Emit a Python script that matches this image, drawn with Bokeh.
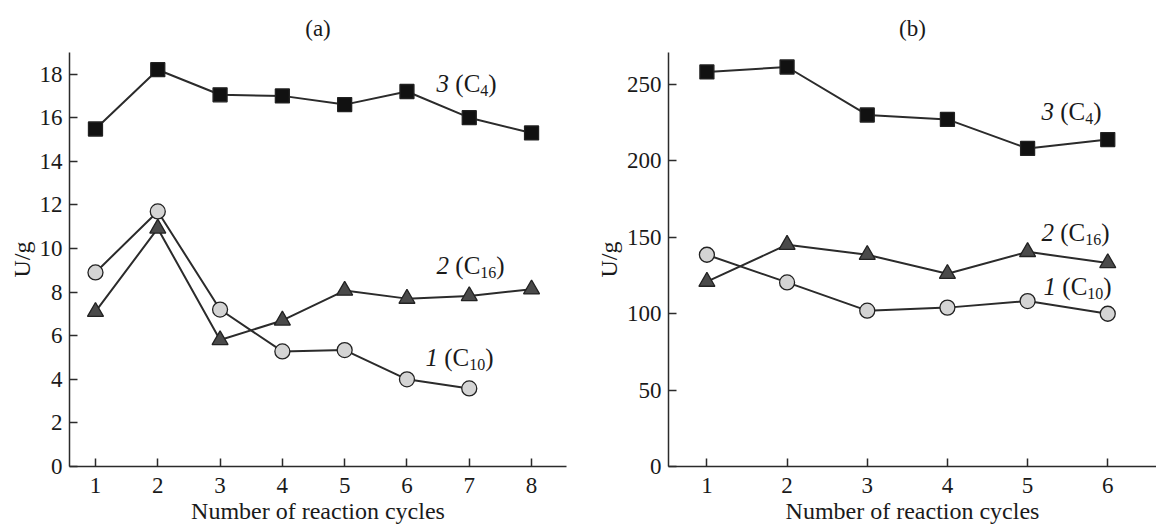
from bokeh.plotting import figure
from bokeh.layouts import row
from bokeh.models import Label, FixedTicker, Range1d
from bokeh.embed import file_html
from bokeh.resources import INLINE

# ---- data ----
cycles_a = [1, 2, 3, 4, 5, 6, 7, 8]
c4_a = [15.48, 18.2, 17.05, 17.0, 16.6, 17.2, 16.0, 15.3]
c16_a = [7.1, 10.92, 5.8, 6.7, 8.07, 7.7, 7.82, 8.13]
cycles_a_c10 = [1, 2, 3, 4, 5, 6, 7]
c10_a = [8.9, 11.7, 7.2, 5.28, 5.34, 4.0, 3.58]

cycles_b = [1, 2, 3, 4, 5, 6]
c4_b = [258.3, 261.5, 230.1, 227.2, 208.2, 214.0]
c16_b = [121.0, 145.2, 138.6, 126.2, 140.5, 133.2]
c10_b = [138.6, 120.5, 102.0, 104.0, 108.3, 100.0]

yticks_a = [0, 2, 4, 6, 8, 10, 12, 14, 16, 18]
yticks_b = [0, 50, 100, 150, 200, 250]

FONT = "Liberation Serif"
LINE = "#2b2b2b"
TXT = "#1a1a1a"


def style(p, xticks, yticks):
    p.xaxis.ticker = FixedTicker(ticks=xticks)
    p.yaxis.ticker = FixedTicker(ticks=yticks)
    for ax in (p.xaxis[0], p.yaxis[0]):
        ax.major_tick_in = 8
        ax.major_tick_out = 0
        ax.minor_tick_in = 0
        ax.minor_tick_out = 0
        ax.axis_line_width = 1.5
        ax.axis_line_color = LINE
        ax.major_tick_line_width = 1.5
        ax.major_tick_line_color = LINE
        ax.major_label_text_font = FONT
        ax.major_label_text_font_size = "23px"
        ax.major_label_text_color = TXT
        ax.axis_label_text_font = FONT
        ax.axis_label_text_font_size = "24px"
        ax.axis_label_text_font_style = "normal"
        ax.axis_label_text_color = TXT
    p.xaxis.major_label_standoff = 11
    p.yaxis.major_label_standoff = 7
    p.xaxis.axis_label_standoff = 2
    p.yaxis.axis_label_standoff = 2
    p.xgrid.visible = False
    p.ygrid.visible = False
    p.outline_line_color = None
    p.title.text_font = FONT
    p.title.text_font_size = "23px"
    p.title.text_font_style = "normal"
    p.title.align = "center"
    p.title.text_color = TXT
    p.title.standoff = 24


def series(p, x, y, marker, fill, size):
    p.line(x, y, line_color=LINE, line_width=2)
    p.scatter(x, y, marker=marker, size=size, fill_color=fill,
              line_color="#222222", line_width=1.3)


def curve_label(p, x, y, num, sub):
    big = 25
    small = 16
    parts = [(num, "italic", big, 0.0, 0)]
    off = 0.5 * big + 0.25 * big
    parts.append(("(C", "normal", big, off, 0))
    off += 1.0 * big
    parts.append((sub, "normal", small, off, -7))
    off += 0.5 * small * len(sub)
    parts.append((")", "normal", big, off, 0))
    for txt, st, fs, xo, yo in parts:
        p.add_layout(Label(x=x, y=y, x_offset=xo, y_offset=yo, text=txt,
                           text_font=FONT, text_font_style=st,
                           text_font_size=f"{fs}px", text_baseline="middle",
                           text_align="left", text_color=TXT))


# ---- panel (a) ----
pa = figure(title="(a)", width=580, height=527,
            min_border_left=69, min_border_right=14,
            min_border_top=52, min_border_bottom=61,
            x_range=Range1d(0.583, 8.561), y_range=Range1d(0, 18.99),
            output_backend="svg", toolbar_location=None,
            x_axis_label="Number of reaction cycles", y_axis_label="U/g")
style(pa, cycles_a, yticks_a)
series(pa, cycles_a, c4_a, "square", "#111111", 14)
series(pa, cycles_a, c16_a, "triangle", "#4a4a4a", 16)
series(pa, cycles_a_c10, c10_a, "circle", "#d4d4d4", 15)
curve_label(pa, 6.476, 17.59, "3", "4")
curve_label(pa, 6.476, 9.21, "2", "16")
curve_label(pa, 6.298, 4.99, "1", "10")

# ---- panel (b) ----
pb = figure(title="(b)", width=576, height=527,
            min_border_left=88, min_border_right=0,
            min_border_top=52, min_border_bottom=61,
            x_range=Range1d(0.521, 6.608), y_range=Range1d(0, 271),
            output_backend="svg", toolbar_location=None,
            x_axis_label="Number of reaction cycles", y_axis_label="U/g")
style(pb, cycles_b, yticks_b)
series(pb, cycles_b, c4_b, "square", "#111111", 14)
series(pb, cycles_b, c16_b, "triangle", "#4a4a4a", 16)
series(pb, cycles_b, c10_b, "circle", "#d4d4d4", 15)
curve_label(pb, 5.174, 232.3, "3", "4")
curve_label(pb, 5.174, 153.5, "2", "16")
curve_label(pb, 5.20, 117.5, "1", "10")

layout = row(pa, pb, spacing=0)
open("out.html", "w").write(file_html(layout, INLINE))
